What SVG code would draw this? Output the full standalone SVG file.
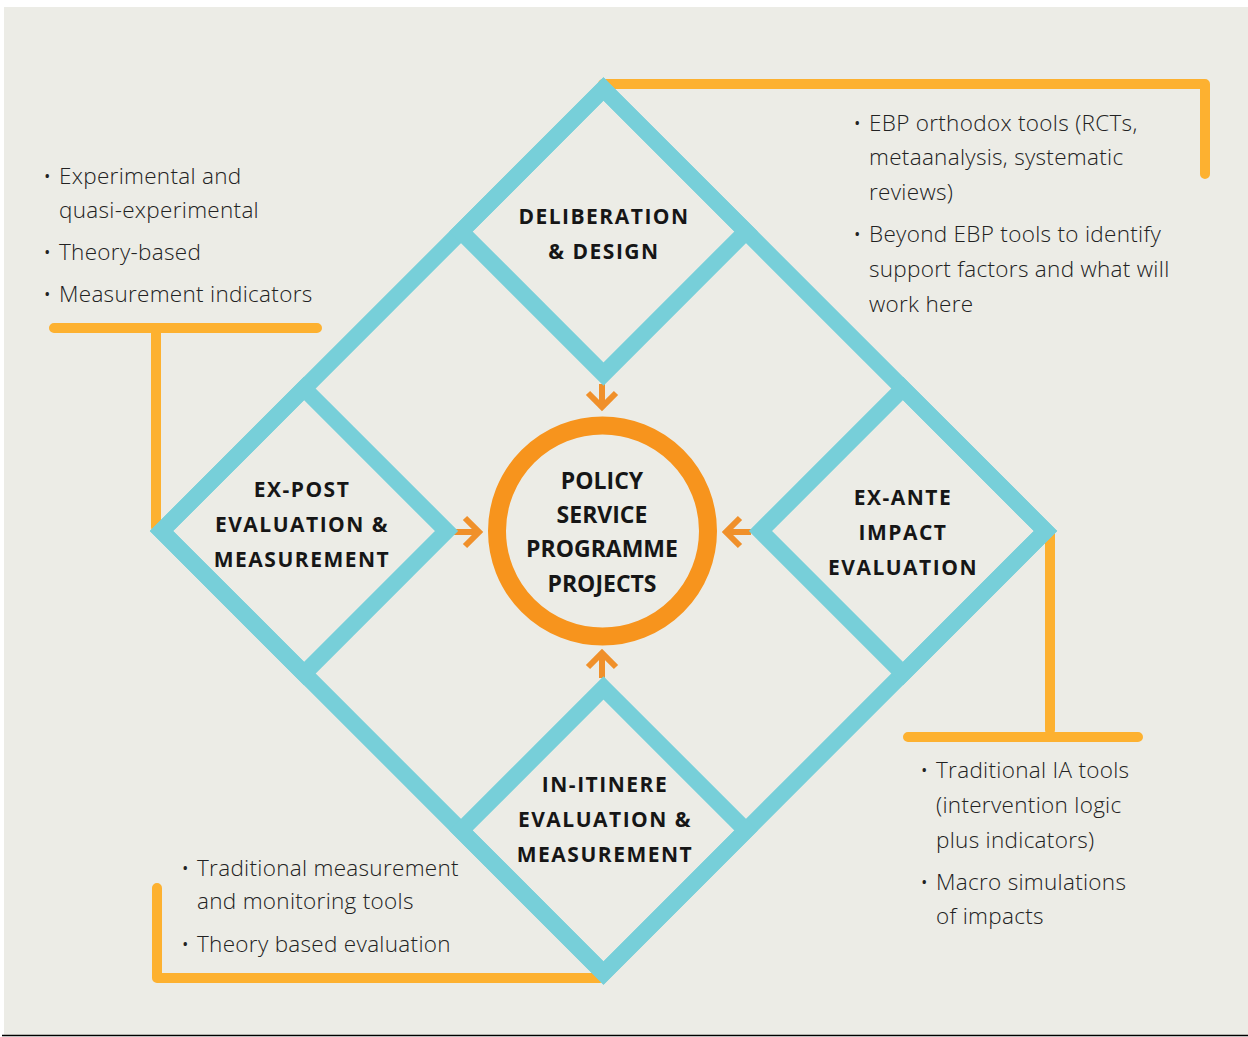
<svg xmlns="http://www.w3.org/2000/svg" width="1248" height="1037" viewBox="0 0 1248 1037">
<defs>
<style>
.teal{fill:none;stroke:#77CFD9;stroke-width:16.5;stroke-linejoin:miter;stroke-miterlimit:10}
.bracket{fill:none;stroke:#FDB130;stroke-width:10;stroke-linecap:round;stroke-linejoin:round}
.arrow{fill:none;stroke:#F0902A;stroke-width:6;stroke-linejoin:miter}
.ring{fill:none;stroke:#F7941D;stroke-width:18}
.lbl{font-family:"Open Sans","Liberation Sans",sans-serif;font-weight:700;font-size:21px;letter-spacing:1.5px;fill:#161616;text-anchor:middle}
.ctr{font-family:"Open Sans","Liberation Sans",sans-serif;font-weight:700;font-size:23px;letter-spacing:0px;fill:#161616;text-anchor:middle}
.body{font-family:"Open Sans","Liberation Sans",sans-serif;font-weight:300;font-size:22.5px;letter-spacing:0.3px;fill:#222222}
</style>
</defs>
<rect x="0" y="0" width="1248" height="1037" fill="#FFFFFF"/>
<rect x="4" y="7" width="1244" height="1028" fill="#ECECE6"/>
<line x1="2" y1="1035.5" x2="1248" y2="1035.5" stroke="#000" stroke-width="1.6"/>

<g id="connectors">
  <path class="bracket" d="M603,84 H1205 V174"/>
  <path class="bracket" d="M54,328 H317 M156,328 V527"/>
  <path class="bracket" d="M1050,533 V730 M908,737 H1138"/>
  <path class="bracket" d="M157,888 V978 H600"/>
  <path class="arrow" d="M602,384 V407 M588,393 L602,407 L616,393"/>
  <path class="arrow" d="M454,532 H479 M465,518 L479,532 L465,546"/>
  <path class="arrow" d="M751,532 H726 M740,518 L726,532 L740,546"/>
  <path class="arrow" d="M602,678 V653 M588,667 L602,653 L616,667"/>
</g>

<g id="frame">
  <path class="teal" d="M603.5,89 L1045.5,531 L603.5,973 L161.5,531 Z"/>
</g>

<g id="deliberation">
  <path class="teal" d="M603.5,89 L746,231.5 L603.5,374 L461,231.5 Z"/>
  <text class="lbl" x="604" y="224">DELIBERATION</text>
  <text class="lbl" x="604" y="259">&amp; DESIGN</text>
</g>

<g id="expost">
  <path class="teal" d="M304,388.5 L446.5,531 L304,673.5 L161.5,531 Z"/>
  <text class="lbl" x="302" y="497">EX-POST</text>
  <text class="lbl" x="302" y="532">EVALUATION &amp;</text>
  <text class="lbl" x="302" y="567">MEASUREMENT</text>
</g>

<g id="exante">
  <path class="teal" d="M903,388.5 L1045.5,531 L903,673.5 L760.5,531 Z"/>
  <text class="lbl" x="903" y="505">EX-ANTE</text>
  <text class="lbl" x="903" y="540">IMPACT</text>
  <text class="lbl" x="903" y="575">EVALUATION</text>
</g>

<g id="initinere">
  <path class="teal" d="M603.5,688 L746,830.5 L603.5,973 L461,830.5 Z"/>
  <text class="lbl" x="605" y="792">IN-ITINERE</text>
  <text class="lbl" x="605" y="827">EVALUATION &amp;</text>
  <text class="lbl" x="605" y="862">MEASUREMENT</text>
</g>

<g id="center">
  <circle class="ring" cx="602.5" cy="531" r="105.5"/>
  <text class="ctr" x="602" y="489">POLICY</text>
  <text class="ctr" x="602" y="523">SERVICE</text>
  <text class="ctr" x="602" y="557">PROGRAMME</text>
  <text class="ctr" x="602" y="592">PROJECTS</text>
</g>

<g id="notes-expost">
  <text class="body" x="43" y="184">•</text><text class="body" x="59" y="184">Experimental and</text>
  <text class="body" x="59" y="218">quasi-experimental</text>
  <text class="body" x="43" y="260">•</text><text class="body" x="59" y="260">Theory-based</text>
  <text class="body" x="43" y="302">•</text><text class="body" x="59" y="302">Measurement indicators</text>
</g>

<g id="notes-deliberation">
  <text class="body" x="853" y="131">•</text><text class="body" x="869" y="131">EBP orthodox tools (RCTs,</text>
  <text class="body" x="869" y="165">metaanalysis, systematic</text>
  <text class="body" x="869" y="200">reviews)</text>
  <text class="body" x="853" y="242">•</text><text class="body" x="869" y="242">Beyond EBP tools to identify</text>
  <text class="body" x="869" y="277">support factors and what will</text>
  <text class="body" x="869" y="312">work here</text>
</g>

<g id="notes-exante">
  <text class="body" x="920" y="778">•</text><text class="body" x="936" y="778">Traditional IA tools</text>
  <text class="body" x="936" y="813">(intervention logic</text>
  <text class="body" x="936" y="848">plus indicators)</text>
  <text class="body" x="920" y="890">•</text><text class="body" x="936" y="890">Macro simulations</text>
  <text class="body" x="936" y="924">of impacts</text>
</g>

<g id="notes-initinere">
  <text class="body" x="181" y="876">•</text><text class="body" x="197" y="876">Traditional measurement</text>
  <text class="body" x="197" y="909">and monitoring tools</text>
  <text class="body" x="181" y="952">•</text><text class="body" x="197" y="952">Theory based evaluation</text>
</g>
</svg>
